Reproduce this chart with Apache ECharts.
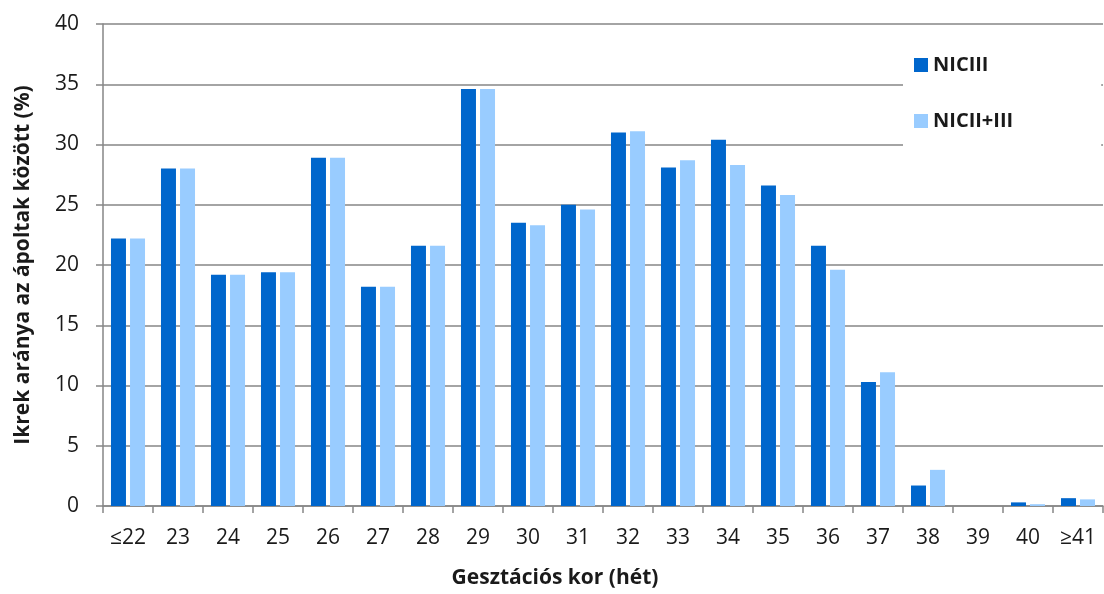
<!DOCTYPE html>
<html>
<head>
<meta charset="utf-8">
<script src="https://cdn.jsdelivr.net/npm/echarts@6/dist/echarts.min.js"></script>
<style>html,body{margin:0;padding:0;background:#fff}#c{width:1104px;height:594px}</style>
</head>
<body>
<div id="c"></div>
<script>
const categories = ['≤22','23','24','25','26','27','28','29','30','31','32','33','34','35','36','37','38','39','40','≥41'];
const seriesNames = ['NICIII','NICII+III'];
const nic3 = [22.2, 28.0, 19.2, 19.4, 28.9, 18.2, 21.6, 34.6, 23.5, 25.0, 31.0, 28.1, 30.4, 26.6, 21.6, 10.3, 1.7, 0, 0.3, 0.65];
const nic23 = [22.2, 28.0, 19.2, 19.4, 28.9, 18.2, 21.6, 34.6, 23.3, 24.6, 31.1, 28.7, 28.3, 25.8, 19.6, 11.1, 3.0, 0, 0.15, 0.55];
const yTicks = {min: 0, max: 40, interval: 5};
const xTitle = 'Gesztációs kor (hét)';
const yTitle = 'Ikrek aránya az ápoltak között (%)';

const FONT = '"Open Sans", "DejaVu Sans", sans-serif';
const chart = echarts.init(document.getElementById('c'), null, {renderer: 'canvas'});
chart.setOption({
  animation: false,
  backgroundColor: '#fff',
  grid: {left: 103, right: 1, top: 24, bottom: 87, containLabel: false},
  legend: {
    orient: 'vertical',
    left: 903, top: 40,
    padding: [15, 88, 16, 11],
    backgroundColor: '#fff',
    itemWidth: 14, itemHeight: 14, itemGap: 36,
    icon: 'rect',
    z: 10,
    textStyle: {fontFamily: FONT, fontSize: 20, fontWeight: 'bold', color: '#1a1a1a'},
    data: seriesNames
  },
  xAxis: {
    type: 'category',
    data: categories,
    name: xTitle,
    nameLocation: 'middle',
    nameGap: 62,
    nameTextStyle: {fontFamily: FONT, fontSize: 21, fontWeight: 'bold', color: '#1a1a1a', padding: [0, 96, 0, 0]},
    axisLine: {lineStyle: {color: '#868686', width: 1.5}},
    axisTick: {show: true, alignWithLabel: false, length: 7, lineStyle: {color: '#868686', width: 1.5}},
    axisLabel: {fontFamily: FONT, fontSize: 21, color: '#1a1a1a', margin: 22, interval: 0}
  },
  yAxis: {
    type: 'value',
    min: yTicks.min, max: yTicks.max, interval: yTicks.interval,
    name: yTitle,
    nameLocation: 'middle',
    nameGap: 69,
    nameTextStyle: {fontFamily: FONT, fontSize: 21, fontWeight: 'bold', color: '#1a1a1a'},
    axisLine: {show: true, lineStyle: {color: '#868686', width: 1.5}},
    axisTick: {show: true, length: 7, lineStyle: {color: '#868686', width: 1.5}},
    axisLabel: {fontFamily: FONT, fontSize: 21, color: '#1a1a1a', margin: 24},
    splitLine: {lineStyle: {color: '#868686', width: 1.5}}
  },
  series: [
    {name: seriesNames[0], type: 'bar', data: nic3, barWidth: 15, barGap: '27%',
     itemStyle: {color: '#0066CC'}},
    {name: seriesNames[1], type: 'bar', data: nic23, barWidth: 15, barGap: '27%',
     itemStyle: {color: '#99CCFF'}}
  ]
});
</script>
</body>
</html>
